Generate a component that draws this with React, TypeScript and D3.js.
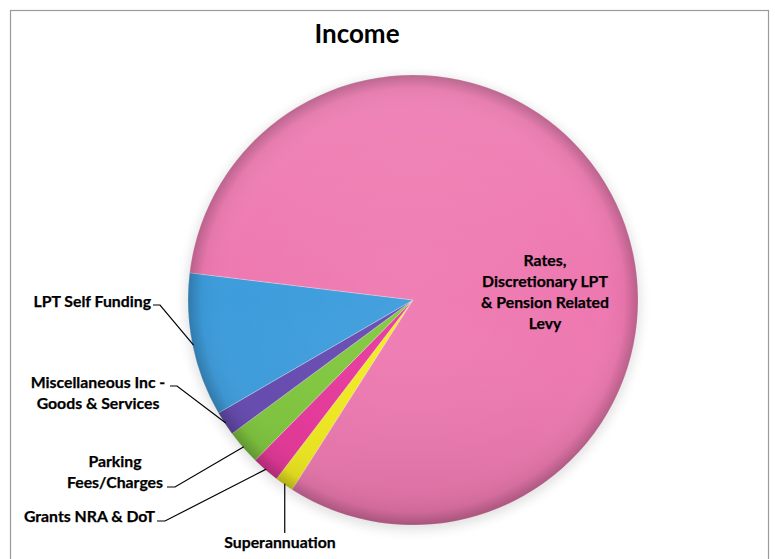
import React from "react";
import * as d3 from "d3";

const categories = [
  "Superannuation",
  "Grants NRA & DoT",
  "Parking Fees/Charges",
  "Miscellaneous Inc - Goods & Services",
  "LPT Self Funding",
  "Rates, Discretionary LPT & Pension Related Levy",
];
const values = [1.35, 2.0, 2.5, 1.75, 10.3, 82.1];
const colors = ["#F2EC1E", "#E8369A", "#7FC73C", "#6549B0", "#3C9CDC", "#EE78B0"];
const labelLines = [
  ["Superannuation"],
  ["Grants NRA & DoT"],
  ["Parking", "Fees/Charges"],
  ["Miscellaneous Inc -", "Goods & Services"],
  ["LPT Self Funding"],
  ["Rates,", "Discretionary LPT", "& Pension Related", "Levy"],
];
const title = "Income";

// layout (not data)
const W = 775, H = 559;
const CX = 413, CY = 300, R = 225;
const START = (212.5 * Math.PI) / 180;
const labelLayout = [
  { x: 280, y: 548, anchor: "middle", elbow: null, vertical: 533 },
  { x: 155, y: 522, anchor: "end", elbow: [157, 165, 521] },
  { x: 115, y: 467, anchor: "middle", elbow: [167, 175, 487] },
  { x: 98, y: 388, anchor: "middle", elbow: [170, 177, 386] },
  { x: 151, y: 307, anchor: "end", elbow: [153, 160, 305] },
  { x: 545, y: 266, anchor: "middle", elbow: null },
];
const FONT = "Lato, 'Open Sans', sans-serif";

export default function App() {
  const data = categories.map((c, i) => ({ c, v: values[i], i }));
  const pie = d3
    .pie<any>()
    .value((d) => d.v)
    .sort(null)
    .startAngle(START)
    .endAngle(START + 2 * Math.PI);
  const arcs = pie(data);
  const arc = d3.arc<any>().innerRadius(0).outerRadius(R);
  const edgeArc = d3.arc<any>().innerRadius(R - 1).outerRadius(R - 1);

  return (
    <svg
      width={W}
      height={H}
      style={{ position: "absolute", left: 0, top: 0, background: "#fff" }}
    >
      <defs>
        <radialGradient id="shade" cx="50%" cy="50%" r="50%">
          <stop offset="0%" stopColor="#fff" stopOpacity={0.05} />
          <stop offset="80%" stopColor="#fff" stopOpacity={0} />
          <stop offset="94%" stopColor="#000" stopOpacity={0.04} />
          <stop offset="100%" stopColor="#000" stopOpacity={0.22} />
        </radialGradient>
        <linearGradient id="vert" x1="0" y1="0" x2="0" y2="1">
          <stop offset="0%" stopColor="#fff" stopOpacity={0.1} />
          <stop offset="50%" stopColor="#fff" stopOpacity={0} />
          <stop offset="100%" stopColor="#000" stopOpacity={0.1} />
        </linearGradient>
        <filter id="shadow" x="-20%" y="-20%" width="140%" height="140%">
          <feGaussianBlur stdDeviation="6" />
        </filter>
      </defs>
      <rect x={10.5} y={10.5} width={758} height={H + 10} fill="#fff" stroke="#9a9a9a" strokeWidth={1.2} />
      <text
        x={357}
        y={43}
        textAnchor="middle"
        fontFamily={FONT}
        fontWeight="bold"
        fontSize={26}
        fill="#000"
      >
        {title}
      </text>
      <circle cx={CX} cy={CY + 3} r={R + 2} fill="#000" opacity={0.12} filter="url(#shadow)" />
      <g transform={`translate(${CX},${CY})`}>
        {arcs.map((a, i) => (
          <path key={i} d={arc(a) as string} fill={colors[a.data.i]} stroke="rgba(255,255,255,0.35)" strokeWidth={0.8} />
        ))}
        <circle r={R} fill="url(#vert)" />
        <circle r={R} fill="url(#shade)" />
      </g>
      {arcs.map((a, i) => {
        const L = labelLayout[a.data.i];
        const lines = labelLines[a.data.i];
        const [px, py] = edgeArc.centroid(a);
        const ax = CX + px, ay = CY + py;
        let path: string | null = null;
        if (L.elbow) {
          const [x0, x1, y] = L.elbow as number[];
          path = `M${x0},${y}L${x1},${y}L${ax},${ay}`;
        } else if ((L as any).vertical) {
          path = `M${ax},${ay}L${ax},${(L as any).vertical}`;
        }
        return (
          <g key={"l" + i}>
            {path && <path d={path} fill="none" stroke="#000" strokeWidth={1.2} />}
            <text
              textAnchor={L.anchor as any}
              fontFamily={FONT}
              fontWeight="bold"
              fontSize={15.8}
              fill="#000"
              stroke="#000"
              strokeWidth={0.25}
            >
              {lines.map((t, j) => (
                <tspan key={j} x={L.x} y={L.y + j * 21}>
                  {t}
                </tspan>
              ))}
            </text>
          </g>
        );
      })}
    </svg>
  );
}
